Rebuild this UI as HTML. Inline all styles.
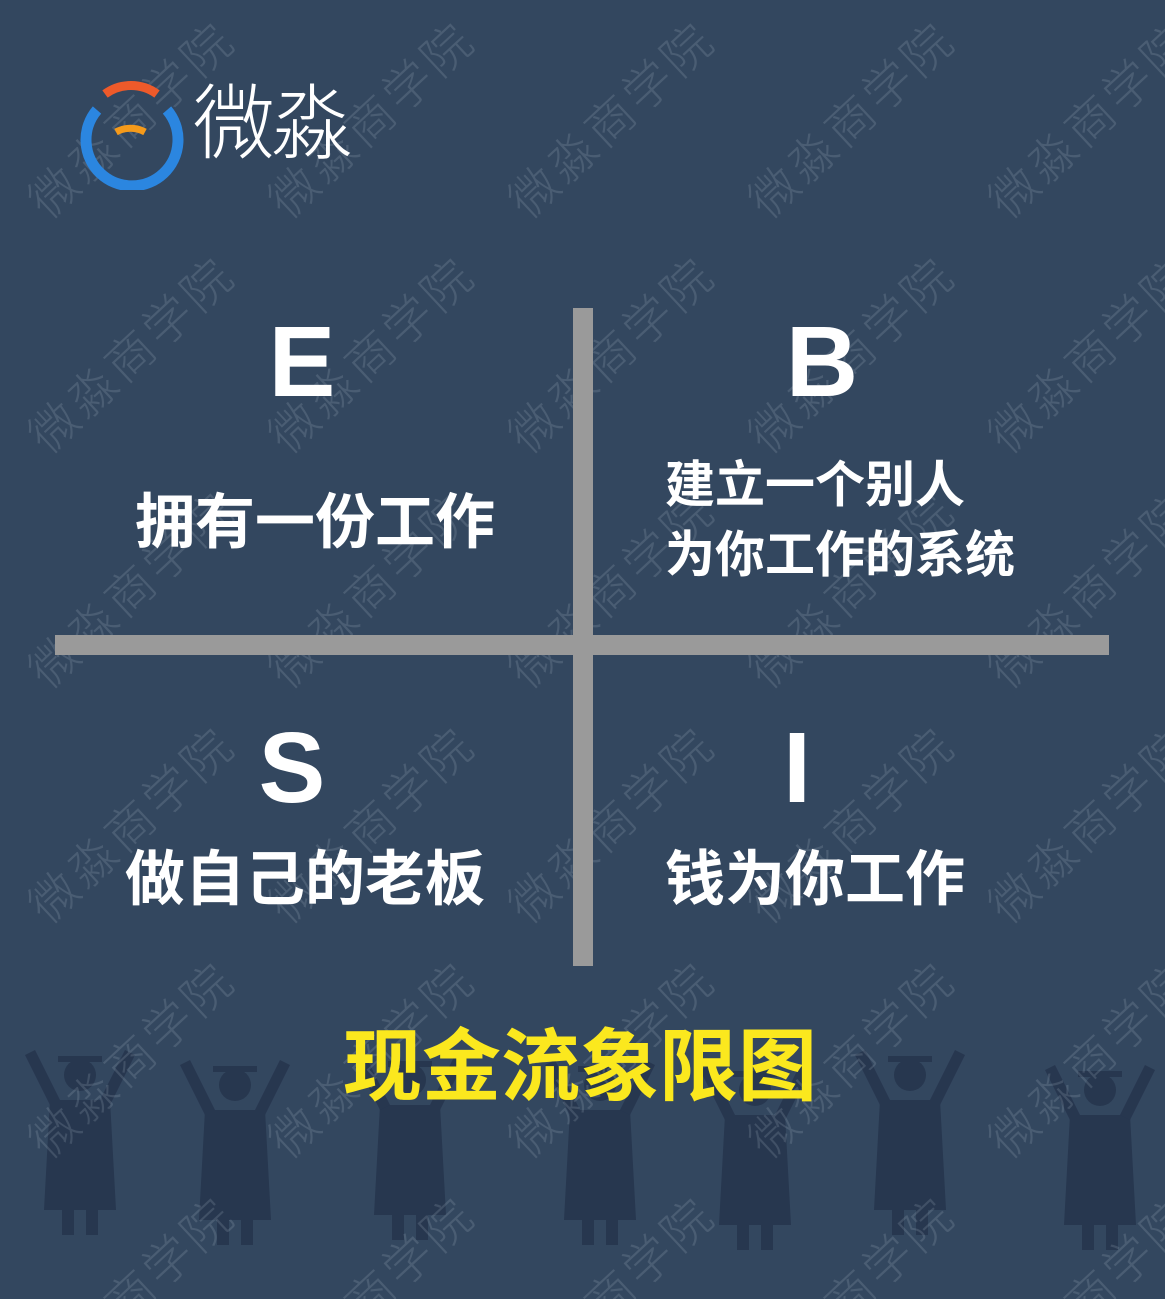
<!DOCTYPE html>
<html><head><meta charset="utf-8"><style>
html,body{margin:0;padding:0;width:1165px;height:1299px;overflow:hidden}
body{background:#33475f;position:relative;font-family:"Liberation Sans","Noto Sans CJK SC",sans-serif}
#wms{position:absolute;left:0;top:0;width:1165px;height:1299px;overflow:hidden}
.wm{position:absolute;color:rgba(200,210,225,0.16);font-size:48px;white-space:nowrap;transform:rotate(-43deg);transform-origin:0 0;font-family:"Noto Sans CJK SC",sans-serif;font-weight:300;letter-spacing:4px}
.t{position:absolute;color:#fff;white-space:nowrap;font-family:"Liberation Sans","Noto Sans CJK SC",sans-serif;font-weight:bold}
.L{position:absolute;color:#fff;font-size:100px;font-weight:bold;font-family:"Liberation Sans",sans-serif;line-height:1;transform:translateX(-50%)}
</style></head><body>
<svg width="1165" height="1299" style="position:absolute;left:0;top:0" id="sil"></svg>
<div id="wms"></div>
<svg style="position:absolute;left:75px;top:70px" width="110" height="120" viewBox="0 0 110 120">
<path d="M22 40 A46 46 0 1 0 92 40" fill="none" stroke="#2b86e0" stroke-width="11"/>
<path d="M30 24 A44 44 0 0 1 82 24" fill="none" stroke="#ee5a2a" stroke-width="9"/>
<path d="M41 62 A30 30 0 0 1 70 62" fill="none" stroke="#f59a1a" stroke-width="7"/>
</svg>
<div class="t" style="left:193px;top:84px;font-size:82px;font-weight:300;letter-spacing:-4px;line-height:1">微淼</div>
<div style="position:absolute;left:573px;top:308px;width:20px;height:658px;background:#9a9a9a"></div>
<div style="position:absolute;left:55px;top:635px;width:1054px;height:20px;background:#9a9a9a"></div>
<div class="L" style="left:302px;top:312px">E</div>
<div class="L" style="left:822px;top:312px">B</div>
<div class="L" style="left:292px;top:718px">S</div>
<div class="L" style="left:797px;top:718px">I</div>
<div class="t" style="left:135px;top:490px;font-size:60px;line-height:1.1">拥有一份工作</div>
<div class="t" style="left:665px;top:450px;font-size:50px;line-height:70px">建立一个别人<br>为你工作的系统</div>
<div class="t" style="left:125px;top:847px;font-size:60px;line-height:1.1">做自己的老板</div>
<div class="t" style="left:665px;top:847px;font-size:60px;line-height:1.1">钱为你工作</div>
<div class="t" style="left:343px;top:1024px;font-size:79px;color:#fbe81e;line-height:1.1">现金流象限图</div>
<script>
const wmCols=[0,240,480,720,960];
const wmRows=[0,235,470,705,940,1175];
const host=document.getElementById('wms');
wmRows.forEach(r=>wmCols.forEach(c=>{
 const d=document.createElement('div');
 
 
 d.className='wm';d.textContent='微淼商学院';
 d.style.left=(c+10)+'px';d.style.top=(r+180)+'px';
 host.appendChild(d);
}));
const figX=[80,235,410,600,755,910,1100];
const figTop=[1050,1060,1055,1060,1065,1050,1065];
const sil=document.getElementById('sil');
const ns='http://www.w3.org/2000/svg';
figX.forEach((x,i)=>{
 const t=figTop[i];
 const g=document.createElementNS(ns,'g');
 
 
 g.setAttribute('fill','#27374f');
 g.innerHTML=`<circle cx="${x}" cy="${t+25}" r="16"/>
 <rect x="${x-22}" y="${t+6}" width="44" height="6"/>
 <path d="M${x-30} ${t+50} L${x+30} ${t+50} L${x+36} ${t+160} L${x-36} ${t+160} Z"/>
 <path d="M${x-30} ${t+55} L${x-55} ${t+5} L${x-45} ${t} L${x-20} ${t+50} Z"/>
 <path d="M${x+30} ${t+55} L${x+55} ${t+5} L${x+45} ${t} L${x+20} ${t+50} Z"/>
 <rect x="${x-18}" y="${t+160}" width="12" height="25"/><rect x="${x+6}" y="${t+160}" width="12" height="25"/>`;
 sil.appendChild(g);
});
</script>
</body></html>
